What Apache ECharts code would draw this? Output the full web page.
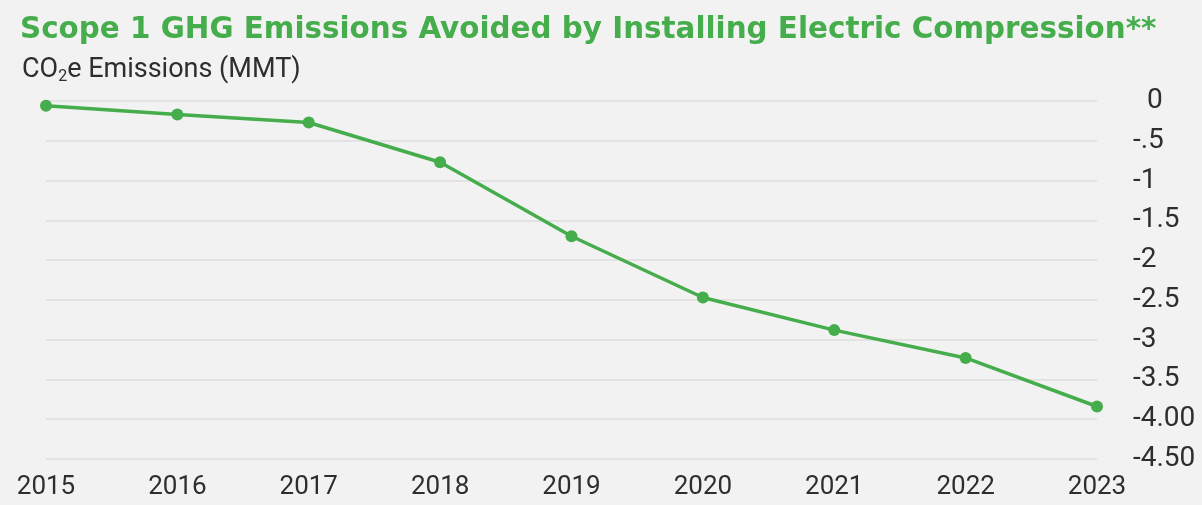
<!DOCTYPE html>
<html>
<head>
<meta charset="utf-8">
<script src="https://cdn.jsdelivr.net/npm/echarts@6/dist/echarts.min.js"></script>
<style>
  html, body { margin: 0; padding: 0; background: #f2f2f2; }
  #chart { width: 1202px; height: 505px; }
</style>
</head>
<body>
<div id="chart"></div>
<script>
const years = ['2015', '2016', '2017', '2018', '2019', '2020', '2021', '2022', '2023'];
const avoided = [-0.06, -0.17, -0.27, -0.77, -1.70, -2.47, -2.88, -3.23, -3.84];
const yTickLabels = { '0': '  0', '-0.5': '-.5', '-1': '-1', '-1.5': '-1.5', '-2': '-2',
  '-2.5': '-2.5', '-3': '-3', '-3.5': '-3.5', '-4': '-4.00', '-4.5': '-4.50' };

const green = '#45ad4b';
const textColor = '#2e2e2e';
const font = 'Roboto';

const chart = echarts.init(document.getElementById('chart'));
chart.setOption({
  backgroundColor: '#f2f2f2',
  animation: false,
  title: [{
    text: 'Scope 1 GHG Emissions Avoided by Installing Electric Compression**',
    left: 15,
    top: 11,
    textStyle: { color: green, fontFamily: 'DejaVu Sans', fontWeight: 'bold', fontSize: 29.4 }
  }, {
    text: '{a|CO}{s|2}{a|e Emissions (MMT)}',
    left: 17,
    top: 50,
    textStyle: {
      fontWeight: 'normal',
      rich: {
        a: { color: textColor, fontFamily: font, fontWeight: 'normal', fontSize: 27 },
        s: { color: textColor, fontFamily: font, fontWeight: 'normal', fontSize: 16, padding: [14, 0, 0, 0] }
      }
    }
  }],
  grid: { left: 46, right: 105, top: 101, bottom: 46 },
  xAxis: {
    type: 'category',
    data: years,
    boundaryGap: false,
    axisLine: { show: false },
    axisTick: { show: false },
    axisLabel: { color: textColor, fontFamily: font, fontSize: 26, margin: 15 },
    splitLine: { show: false }
  },
  yAxis: {
    type: 'value',
    position: 'right',
    min: -4.5,
    max: 0,
    interval: 0.5,
    axisLine: { show: false },
    axisTick: { show: false },
    axisLabel: {
      color: textColor, fontFamily: font, fontSize: 28, margin: 36,
      formatter: v => yTickLabels[String(v)] ?? String(v)
    },
    splitLine: { lineStyle: { color: '#e2e2e2', width: 2 } }
  },
  series: [{
    type: 'line',
    data: avoided,
    symbol: 'circle',
    symbolSize: 12,
    lineStyle: { color: green, width: 3.5 },
    itemStyle: { color: green }
  }]
});
</script>
</body>
</html>
